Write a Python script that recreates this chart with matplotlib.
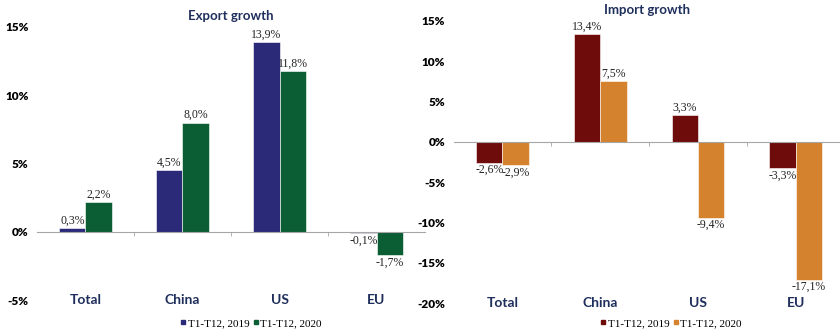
import numpy as np
import matplotlib.pyplot as plt
from matplotlib.lines import Line2D

categories = ['Total', 'China', 'US', 'EU']
series_names = ['T1-T12, 2019', 'T1-T12, 2020']

export_2019 = [0.3, 4.5, 13.9, -0.1]
export_2020 = [2.2, 8.0, 11.8, -1.7]
import_2019 = [-2.6, 13.4, 3.3, -3.3]
import_2020 = [-2.9, 7.5, -9.4, -17.1]

export_ticks = [-5, 0, 5, 10, 15]
import_ticks = [-20, -15, -10, -5, 0, 5, 10, 15]

title_color = '#1f2f5c'
sans = ['Lato', 'DejaVu Sans']
serif = ['Liberation Serif', 'DejaVu Serif']


def fmt(v):
    return ('%.1f%%' % v).replace('.', ',')


def draw_panel(ax, vals_a, vals_b, colors, ticks, title):
    x = np.arange(len(categories))
    w = 0.27
    for vals, off, c in [(vals_a, -w / 2, colors[0]), (vals_b, w / 2, colors[1])]:
        bars = ax.bar(x + off, vals, w, color=c, edgecolor='white', linewidth=0.4, zorder=2)
        for b, v in zip(bars, vals):
            ax.annotate(fmt(v), (b.get_x() + b.get_width() / 2, v),
                        xytext=(0, 1 if v >= 0 else -1), textcoords='offset points',
                        ha='center', va='bottom' if v >= 0 else 'top',
                        fontsize=8.5, family=serif, color='#222222')
    ax.set_ylim(ticks[0], ticks[-1])
    ax.set_yticks(ticks)
    ax.set_yticklabels(['%d%%' % t for t in ticks], fontsize=8.5, fontweight='heavy', family=sans)
    ax.tick_params(axis='y', length=0, pad=6)
    for s in ['left', 'right', 'top']:
        ax.spines[s].set_visible(False)
    ax.spines['bottom'].set_position(('data', 0))
    ax.spines['bottom'].set_color('#a6a6a6')
    ax.set_xticks([])
    ax.set_xticks(x[:-1] + 0.5, minor=True)
    ax.tick_params(axis='x', which='minor', length=3, color='#a6a6a6', labelbottom=False)
    for i, cat in enumerate(categories):
        ax.text(i, 0, cat, transform=ax.get_xaxis_transform(), ha='center', va='center',
                fontsize=10, fontweight='bold', family=sans, color=title_color)
    ax.set_title(title, fontsize=9.5, fontweight='bold', family=sans, color=title_color, pad=5)


fig = plt.figure(figsize=(8.4, 3.33), dpi=100)
ax1 = fig.add_axes([0.044, 0.099, 0.462, 0.820])
ax2 = fig.add_axes([0.540, 0.090, 0.4595, 0.847])

left_colors = ['#2b2a78', '#0b5e34']
right_colors = ['#6e0b0b', '#d4822e']

draw_panel(ax1, export_2019, export_2020, left_colors, export_ticks, 'Export growth')
ax1.set_xlim(-0.5, 3.5)
draw_panel(ax2, import_2019, import_2020, right_colors, import_ticks, 'Import growth')
ax2.set_xlim(-0.5, 3.45)

for cols, xc in [(left_colors, 0.298), (right_colors, 0.798)]:
    handles = [Line2D([], [], marker='s', ls='', color=c, markersize=3.5) for c in cols]
    fig.legend(handles, series_names, loc='center', bbox_to_anchor=(xc, 0.03), ncol=2,
               frameon=False, handletextpad=0.0, columnspacing=0.2, handlelength=0.8,
               prop={'family': serif, 'size': 8})

plt.savefig('out.png', dpi=100)
